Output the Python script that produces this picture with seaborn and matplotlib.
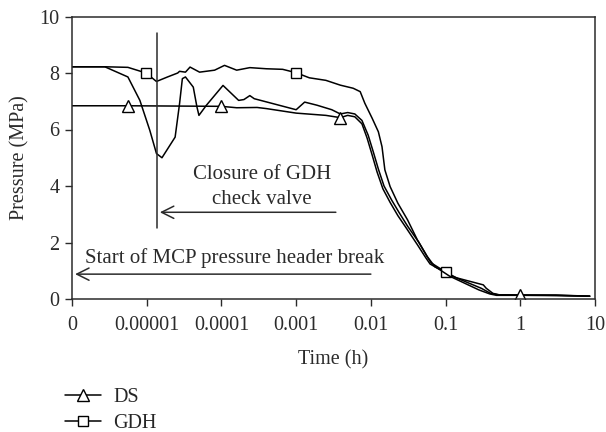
import numpy as np
import pandas as pd
import matplotlib
matplotlib.use("Agg")
import matplotlib.pyplot as plt
from matplotlib.lines import Line2D
import seaborn as sns

sns.set_theme(style="white")
plt.rcParams['font.family'] = ['Liberation Serif', 'DejaVu Serif']

# ---- data ----
gdh_t = [1e-6, 2.8e-6, 5.6e-6, 9.8e-6, 1.35e-5, 1.9e-5, 2.6e-5, 2.75e-5, 3.3e-5, 3.8e-5,
         5.1e-5, 8.1e-5, 1.1e-4, 1.6e-4, 2.4e-4, 4.0e-4, 6.6e-4, 1.0e-3, 1.5e-3, 2.5e-3,
         3.9e-3, 5.8e-3, 7.2e-3, 8.3e-3, 1.04e-2, 1.26e-2, 1.41e-2, 1.54e-2, 1.81e-2, 2.3e-2,
         3.1e-2, 4.2e-2, 5.7e-2, 7.2e-2, 0.1, 0.14, 0.32, 0.35, 0.43, 0.52,
         1.0, 3.0, 8.5]
gdh_p = [8.22, 8.22, 8.2, 8.0, 7.70, 7.86, 8.0, 8.06, 8.03, 8.21,
         8.03, 8.1, 8.27, 8.1, 8.19, 8.15, 8.13, 8.01, 7.83, 7.74,
         7.57, 7.46, 7.34, 6.93, 6.40, 5.92, 5.39, 4.57, 3.98, 3.39,
         2.80, 2.09, 1.50, 1.14, 0.95, 0.75, 0.5, 0.38, 0.2, 0.15,
         0.14, 0.14, 0.1]
gdh_marks = [3, 17, 34]

ds_t = [1e-6, 5.7e-6, 1e-4, 1.6e-4, 3.0e-4, 4.0e-4, 1.0e-3, 2.5e-3, 3.9e-3, 4.9e-3,
        6.1e-3, 7.6e-3, 8.9e-3, 1.04e-2, 1.21e-2, 1.45e-2, 1.81e-2, 2.3e-2, 3.0e-2, 4.2e-2,
        5.4e-2, 6.2e-2, 7.9e-2, 0.113, 0.28, 0.39, 0.48, 1.0, 3.0, 8.5]
ds_p = [6.84, 6.84, 6.82, 6.77, 6.78, 6.74, 6.58, 6.5, 6.42, 6.5,
        6.45, 6.2, 5.7, 5.1, 4.5, 3.9, 3.42, 2.95, 2.5, 1.92,
        1.47, 1.24, 1.08, 0.81, 0.32, 0.18, 0.13, 0.13, 0.12, 0.1]
ds_marks = [1, 2, 8, 27]

other_t = [1e-6, 2.75e-6, 5.6e-6, 8.1e-6, 1.1e-5, 1.35e-5, 1.6e-5, 2.4e-5, 2.75e-5, 3.0e-5,
           3.3e-5, 4.2e-5, 4.7e-5, 5.0e-5, 6.3e-5, 1.05e-4, 1.7e-4, 2.0e-4, 2.4e-4, 2.75e-4,
           1.0e-3, 1.3e-3, 1.9e-3, 3.0e-3, 3.9e-3, 4.9e-3, 6.1e-3, 7.6e-3, 9.2e-3, 1.08e-2,
           1.26e-2, 1.5e-2, 1.9e-2, 2.4e-2, 3.1e-2, 4.4e-2, 5.6e-2, 6.4e-2, 8.2e-2, 0.1,
           0.12, 0.3, 0.4, 0.5, 1.0, 3.0, 8.5]
other_p = [8.22, 8.22, 7.86, 7.03, 5.97, 5.15, 5.0, 5.73, 6.91, 7.8,
           7.86, 7.5, 6.8, 6.5, 6.86, 7.56, 7.03, 7.06, 7.2, 7.09,
           6.70, 6.97, 6.86, 6.70, 6.55, 6.6, 6.55, 6.32, 5.8, 5.2,
           4.6, 4.0, 3.5, 3.05, 2.58, 2.0, 1.52, 1.28, 1.1, 0.97,
           0.82, 0.38, 0.2, 0.15, 0.14, 0.13, 0.1]

x_ticks = [1e-6, 1e-5, 1e-4, 1e-3, 1e-2, 1e-1, 1, 10]
x_tick_labels = ["0", "0.00001", "0.0001", "0.001", "0.01", "0.1", "1", "10"]
y_ticks = [0, 2, 4, 6, 8, 10]

df = pd.concat([
    pd.DataFrame({"t": gdh_t, "p": gdh_p, "s": "GDH"}),
    pd.DataFrame({"t": ds_t, "p": ds_p, "s": "DS"}),
    pd.DataFrame({"t": other_t, "p": other_p, "s": "other"}),
])

INK = "#2b2b2b"

fig = plt.figure(figsize=(6.06, 4.32), dpi=100)
ax = fig.add_axes([72/606, 1-299/432, (595-72)/606, (299-16.5)/432])

line_kw = dict(color="black", lw=1.1, estimator=None, sort=False, legend=False, ax=ax)
sns.lineplot(data=df[df.s == "other"], x="t", y="p", **line_kw)
sns.lineplot(data=df[df.s == "GDH"], x="t", y="p", marker="s", markevery=gdh_marks,
             markersize=7.5, markerfacecolor="white", markeredgecolor="black",
             markeredgewidth=1.0, **line_kw)
sns.lineplot(data=df[df.s == "DS"], x="t", y="p", marker="^", markevery=ds_marks,
             markersize=8.5, markerfacecolor="white", markeredgecolor="black",
             markeredgewidth=1.0, **line_kw)

ax.set_xscale("log")
ax.set_xlim(1e-6, 10)
ax.set_ylim(0, 10)
ax.set_xticks(x_ticks)
ax.set_xticklabels(x_tick_labels)
ax.minorticks_off()
ax.set_yticks(y_ticks)
ax.tick_params(axis="both", direction="out", length=5, width=1, color=INK,
               labelsize=14.5, labelcolor=INK, bottom=True, left=True)
ax.tick_params(axis="x", pad=7)
ax.tick_params(axis="y", pad=4)
for sp in ax.spines.values():
    sp.set_color(INK)
    sp.set_linewidth(1.1)
ax.set_xlabel("Time (h)", fontsize=14.5, color=INK, labelpad=11)
ax.set_ylabel("Pressure (MPa)", fontsize=14.5, color=INK, labelpad=7)

# annotations
ax.plot([1.39e-5, 1.39e-5], [2.51, 9.41], color=INK, lw=1.1)
ax.annotate("", xy=(1.5e-5, 3.07), xytext=(3.4e-3, 3.07),
            arrowprops=dict(arrowstyle="->", lw=1.1, color=INK,
                            mutation_scale=22, shrinkA=0, shrinkB=0))
ax.annotate("", xy=(1.1e-6, 0.88), xytext=(1.0e-2, 0.88),
            arrowprops=dict(arrowstyle="->", lw=1.1, color=INK,
                            mutation_scale=22, shrinkA=0, shrinkB=0))
ax.text(3.5e-4, 3.96, "Closure of GDH\ncheck valve", ha="center", va="center",
        fontsize=15, color=INK, linespacing=1.42)
ax.text(1.48e-4, 1.27, "Start of MCP pressure header break", ha="center",
        va="baseline", fontsize=15, color=INK)

handles = [
    Line2D([], [], color="black", lw=1.1, marker="^", markersize=8.5,
           markerfacecolor="white", markeredgecolor="black", label="DS"),
    Line2D([], [], color="black", lw=1.1, marker="s", markersize=7.5,
           markerfacecolor="white", markeredgecolor="black", label="GDH"),
]
fig.legend(handles=handles, loc="upper left", bbox_to_anchor=(57/606, 1-380/432),
           frameon=False, fontsize=14.5, handlelength=1.8, handletextpad=0.6,
           labelspacing=0.32, borderaxespad=0)

fig.savefig("out.png", dpi=100)
